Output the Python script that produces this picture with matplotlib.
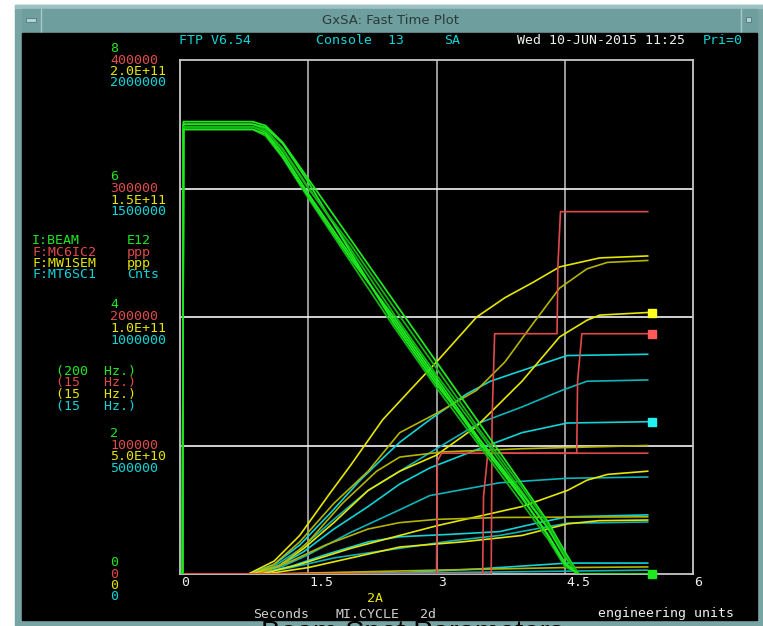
import matplotlib
matplotlib.use("Agg")
import matplotlib.pyplot as plt
from matplotlib.patches import Rectangle

# ---------------------------------------------------------------- data
# time axis (seconds into the MI cycle)
x_ticks = [0, 1.5, 3, 4.5, 6]
x_tick_labels = ["0", "1.5", "3", "4.5", "6"]

# left-hand scale labels, one list per device, for the 8/6/4/2/0 grid rows
grid_rows = [8, 6, 4, 2, 0]
beam_labels = ["8", "6", "4", "2", "0"]
ic_labels = ["400000", "300000", "200000", "100000", "0"]
sem_labels = ["2.0E+11", "1.5E+11", "1.0E+11", "5.0E+10", "0"]
sc_labels = ["2000000", "1500000", "1000000", "500000", "0"]

# full-scale per grid division for each device
beam_per_div = 1.0          # E12
ic_per_div = 50000.0        # ppp
sem_per_div = 2.5e10        # ppp
sc_per_div = 250000.0       # Cnts

# I:BEAM (E12), several cycles overlaid
beam_t = [0.0, 0.03, 0.04, 0.85, 1.0, 1.2, 1.5, 2.0, 2.5, 3.0, 3.5, 4.0, 4.3, 4.5, 4.66, 5.5]
beam_cycles = [
    [0, 0, 7.04, 7.04, 6.98, 6.72, 6.15, 5.20, 4.25, 3.30, 2.35, 1.40, 0.82, 0.35, 0.0, 0],
    [0, 0, 7.00, 7.00, 6.92, 6.62, 6.02, 5.05, 4.05, 3.10, 2.20, 1.28, 0.72, 0.26, 0.0, 0],
    [0, 0, 6.96, 6.96, 6.88, 6.55, 5.92, 4.95, 3.95, 3.00, 2.05, 1.18, 0.62, 0.18, 0.0, 0],
    [0, 0, 6.92, 6.92, 6.82, 6.48, 5.85, 4.85, 3.85, 2.90, 2.00, 1.10, 0.55, 0.12, 0.0, 0],
    [0, 0, 7.00, 7.00, 6.95, 6.70, 6.10, 5.00, 3.90, 2.95, 2.10, 1.25, 0.72, 0.28, 0.0, 0],
    [0, 0, 6.96, 6.96, 6.90, 6.60, 6.00, 5.12, 4.15, 3.20, 2.25, 1.35, 0.78, 0.30, 0.0, 0],
    [0, 0, 6.92, 6.92, 6.85, 6.50, 5.88, 4.90, 4.00, 3.05, 2.10, 1.20, 0.60, 0.15, 0.0, 0],
]

# F:MC6IC2 (ppp) - stepwise integrating ion chamber
ic_cycles = [
    ([0.0, 3.00, 3.01, 3.06, 5.47], [0, 0, 88000, 94000, 94000]),
    ([0.0, 3.54, 3.55, 3.60, 4.64, 4.65, 4.70, 5.47], [0, 0, 60000, 94000, 94000, 150000, 187000, 187000]),
    ([0.0, 3.64, 3.65, 3.68, 4.41, 4.42, 4.45, 5.47], [0, 0, 120000, 187000, 187000, 240000, 282000, 282000]),
]

# F:MW1SEM (ppp, in units of 1E10)
sem_cycles = [
    ([0.0, 0.80, 1.10, 1.40, 1.75, 2.00, 2.37, 2.69, 3.00, 3.47, 3.80, 4.13, 4.44, 4.91, 5.47],
     [0, 0, 0.5, 1.5, 3.125, 4.25, 6.0, 7.15, 8.25, 10.0, 10.75, 11.35, 11.95, 12.3, 12.375]),
    ([0.0, 0.85, 1.10, 1.40, 1.80, 2.20, 2.57, 3.00, 3.47, 3.80, 4.13, 4.44, 4.76, 5.00, 5.47],
     [0, 0, 0.375, 1.25, 2.75, 4.0, 5.5, 6.25, 7.15, 8.25, 9.75, 11.125, 11.875, 12.125, 12.2]),
    ([0.0, 0.85, 1.15, 1.45, 1.80, 2.20, 2.57, 3.00, 3.47, 4.00, 4.44, 4.76, 4.91, 5.47],
     [0, 0, 0.3, 1.0, 2.0, 3.25, 4.0, 4.625, 5.75, 7.5, 9.225, 9.875, 10.075, 10.175]),
    ([0.0, 0.90, 1.20, 1.50, 1.90, 2.30, 2.57, 3.07, 4.00, 5.47],
     [0, 0, 0.375, 1.25, 2.75, 4.0, 4.55, 4.75, 4.875, 5.0]),
    ([0.0, 0.95, 1.40, 2.00, 2.57, 3.00, 3.50, 4.00, 4.53, 4.76, 5.00, 5.47],
     [0, 0, 0.375, 1.0, 1.5, 1.875, 2.25, 2.625, 3.25, 3.65, 3.875, 4.0]),
    ([0.0, 0.90, 1.30, 1.70, 2.20, 2.57, 3.00, 3.74, 5.47],
     [0, 0, 0.5, 1.125, 1.75, 2.0, 2.125, 2.2, 2.225]),
    ([0.0, 1.00, 1.50, 2.00, 2.57, 3.30, 4.00, 4.53, 4.90, 5.47],
     [0, 0, 0.25, 0.625, 1.05, 1.25, 1.5, 1.95, 2.075, 2.1]),
    ([0.0, 1.00, 2.00, 3.00, 4.50, 5.47],
     [0, 0, 0.075, 0.15, 0.25, 0.275]),
]
sem_unit = 1e10

# F:MT6SC1 (Cnts)
sc_cycles = [
    ([0.0, 0.80, 1.10, 1.40, 1.76, 2.10, 2.37, 2.57, 2.92, 3.35, 3.63, 3.94, 4.30, 4.53, 5.47],
     [0, 0, 37500, 112500, 237500, 362500, 450000, 512500, 600000, 700000, 750000, 785000, 825000, 850000, 855000]),
    ([0.0, 0.82, 1.10, 1.40, 1.80, 2.20, 2.57, 3.00, 3.50, 4.00, 4.47, 4.76, 5.47],
     [0, 0, 30000, 95000, 212500, 325000, 400000, 487500, 587500, 650000, 715000, 750000, 755000]),
    ([0.0, 0.85, 1.15, 1.45, 1.80, 2.20, 2.57, 2.92, 3.50, 4.00, 4.53, 5.47],
     [0, 0, 30000, 87500, 175000, 262500, 350000, 412500, 487500, 550000, 587500, 592500]),
    ([0.0, 0.85, 1.20, 1.50, 2.00, 2.57, 2.92, 3.74, 4.53, 5.47],
     [0, 0, 30000, 75000, 162500, 250000, 305000, 355000, 372500, 377500]),
    ([0.0, 0.90, 1.30, 1.70, 2.20, 2.57, 3.20, 3.74, 4.20, 4.53, 5.47],
     [0, 0, 30000, 75000, 125000, 145000, 155000, 165000, 200000, 222500, 230000]),
    ([0.0, 0.90, 1.30, 1.80, 2.57, 3.20, 3.74, 4.53, 5.47],
     [0, 0, 25000, 62500, 100000, 130000, 150000, 197500, 202500]),
    ([0.0, 1.00, 2.00, 2.57, 3.50, 4.53, 5.47],
     [0, 0, 2500, 5000, 20000, 42500, 42500]),
    ([0.0, 1.00, 3.00, 5.47],
     [0, 0, 5000, 15000]),
]

# latest-cycle end markers: (time, value) per device
marker_t = 5.52
beam_marker = 0.0
ic_marker = 187000
sem_marker = 10.175e10
sc_marker = 592500

# ---------------------------------------------------------------- style
GREEN = "#1ee81e"
GREEN_D = "#14b814"
RED = "#e04a4a"
YELLOW = "#e6e600"
YELLOW_D = "#b4b400"
CYAN = "#10d4d8"
CYAN_D = "#0fb4b8"
WHITE = "#eeeeee"
TEAL = "#78a4a4"
MONO = "DejaVu Sans Mono"
FS = 9.5

W, H = 763, 626
fig = plt.figure(figsize=(W / 100, H / 100), dpi=100)

# window chrome, drawn in pixel coordinates
bg = fig.add_axes([0, 0, 1, 1])
bg.set_xlim(0, W)
bg.set_ylim(H, 0)
bg.axis("off")
bg.add_patch(Rectangle((0, 0), W, H, color="white", zorder=0))
bg.add_patch(Rectangle((15, 5), W - 15, H - 5, color=TEAL, zorder=1))
bg.add_patch(Rectangle((15, 5), W - 15, 3, color="#9cc2c2", zorder=1))
bg.add_patch(Rectangle((22, 9), 735, 23, color="#6f9e9e", zorder=1))
bg.plot([41, 41], [9, 32], color="#a8c8c8", lw=1, zorder=2)
bg.plot([741, 741], [9, 32], color="#a8c8c8", lw=1, zorder=2)
bg.add_patch(Rectangle((26, 18), 10, 4, facecolor="#b8d0d0", edgecolor="#4d7a7a", lw=0.6, zorder=2))
bg.add_patch(Rectangle((746, 17), 5, 5, facecolor="#b8d0d0", edgecolor="#4d7a7a", lw=0.6, zorder=2))
bg.text(391, 21, "GxSA: Fast Time Plot", family="DejaVu Sans Condensed", fontsize=9.5,
        color="#2a3a3a", ha="center", va="center", zorder=3)
bg.add_patch(Rectangle((22, 33), 735, 587, color="black", zorder=2))

# bottom caption of the page beneath the window
bg.text(412, 641, "Beam Spot Parameters", family="Liberation Sans", fontsize=21,
        color="black", ha="center", va="baseline", zorder=1.5)


def mono(x, y, s, c, **kw):
    bg.text(x, y, s, family=MONO, fontsize=FS, color=c, ha="left", va="center", zorder=4, **kw)


# header line
mono(179, 40, "FTP V6.54", CYAN)
mono(316, 40, "Console  13", CYAN)
mono(444, 40, "SA", CYAN)
mono(517, 40, "Wed 10-JUN-2015 11:25", WHITE)
mono(703, 40, "Pri=0", CYAN)

# device legend: name, units, sample rate
legend_rows = [("I:BEAM", "E12", "(200  Hz.)", GREEN),
               ("F:MC6IC2", "ppp", "(15   Hz.)", RED),
               ("F:MW1SEM", "ppp", "(15   Hz.)", YELLOW),
               ("F:MT6SC1", "Cnts", "(15   Hz.)", CYAN)]
for k, (name, unit, rate, col) in enumerate(legend_rows):
    mono(32, 241 + 11.2 * k, name, col)
    mono(127, 241 + 11.2 * k, unit, col)
    mono(56, 371 + 11.7 * k, rate, col)

# per-device scale labels stacked beside each grid row
for row, lb, li, ls, lc in zip(grid_rows, beam_labels, ic_labels, sem_labels, sc_labels):
    yg = 574 - row * 64.25
    mono(110, yg - 12, lb, GREEN)
    mono(110, yg, li, RED)
    mono(110, yg + 11.5, ls, YELLOW)
    mono(110, yg + 23, lc, CYAN)

# footer
mono(367, 599, "2A", YELLOW)
mono(253, 614, "Seconds", "#cfcfcf")
mono(336, 614, "MI.CYCLE", "#cfcfcf")
mono(420, 614, "2d", "#cfcfcf")
mono(598, 614, "engineering units", WHITE)

# ---------------------------------------------------------------- plot
ax = fig.add_axes([180 / W, (H - 574) / H, 513 / W, 514 / H], zorder=5)
ax.set_facecolor("none")
ax.set_xlim(0, 6)
ax.set_ylim(0, 8)
for s in ax.spines.values():
    s.set_color("#c8c8c8")
    s.set_linewidth(1.3)
ax.set_xticks([])
ax.set_yticks([])
for gx in x_ticks[1:-1]:
    ax.axvline(gx, color="#c4c4c4", lw=1.1, zorder=1)
for gy in grid_rows[1:-1]:
    ax.axhline(gy, color="#f4f4f4", lw=1.2, zorder=1)

for t, lab in zip(x_ticks, x_tick_labels):
    ax.text(t + 0.015, -0.14, lab, family=MONO, fontsize=FS, color=WHITE,
            ha="left", va="center", clip_on=False)

for i, (t, v) in enumerate(sc_cycles):
    ax.plot(t, [a / sc_per_div for a in v], color=CYAN if i % 2 == 0 else CYAN_D, lw=1.2, zorder=3)
for i, (t, v) in enumerate(sem_cycles):
    ax.plot(t, [a * sem_unit / sem_per_div for a in v], color=YELLOW if i % 2 == 0 else YELLOW_D,
            lw=1.2, zorder=3)
for t, v in ic_cycles:
    ax.plot(t, [a / ic_per_div for a in v], color=RED, lw=1.2, zorder=4)
for i, v in enumerate(beam_cycles):
    ax.plot(beam_t, [a / beam_per_div for a in v], color=GREEN if i % 2 == 0 else GREEN_D, lw=1.3, zorder=5)

ms = 5.5
ax.plot([marker_t], [beam_marker / beam_per_div], "s", color=GREEN, ms=ms, zorder=6, clip_on=False)
ax.plot([marker_t], [ic_marker / ic_per_div], "s", color="#ff5a5a", ms=ms, zorder=6)
ax.plot([marker_t], [sem_marker / sem_per_div], "s", color="#ffff20", ms=ms, zorder=6)
ax.plot([marker_t], [sc_marker / sc_per_div], "s", color="#20f0f0", ms=ms, zorder=6)

fig.savefig("out.png", dpi=100, facecolor="white")
